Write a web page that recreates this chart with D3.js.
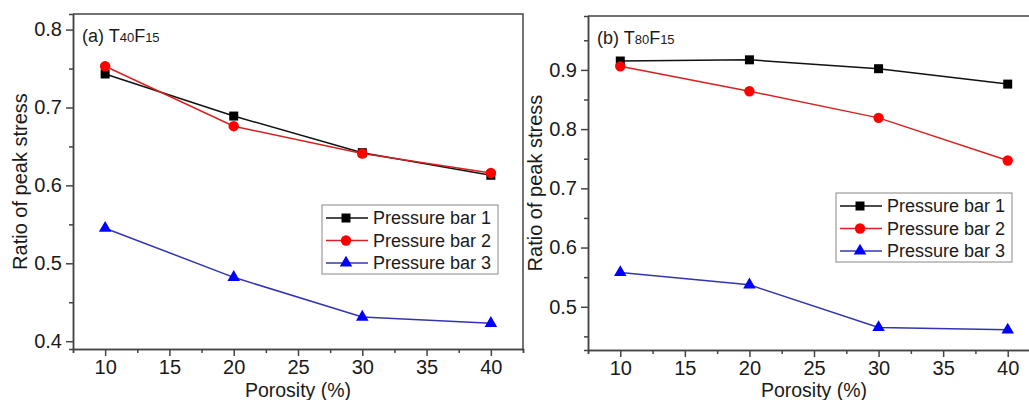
<!DOCTYPE html>
<html>
<head>
<meta charset="utf-8">
<script src="https://cdn.jsdelivr.net/npm/d3@7"></script>
<style>
    body { margin: 0; background: #fff; }
    svg text { font-family: "Liberation Sans", Arial, sans-serif; fill: #1a1a1a; }
</style>
</head>
<body>
<div id="chart"></div>
<script>
const POROSITY = [10, 20, 30, 40]
const SERIES_NAMES = ["Pressure bar 1", "Pressure bar 2", "Pressure bar 3"]

// panel (a) T40F15
const A_BAR1 = [0.743, 0.689, 0.642, 0.613]
const A_BAR2 = [0.753, 0.676, 0.641, 0.616]
const A_BAR3 = [0.545, 0.482, 0.431, 0.423]

// panel (b) T80F15
const B_BAR1 = [0.915, 0.917, 0.902, 0.876]
const B_BAR2 = [0.906, 0.864, 0.819, 0.747]
const B_BAR3 = [0.558, 0.537, 0.465, 0.461]

const X_TICKS = [10, 15, 20, 25, 30, 35, 40]
const X_MINOR = [7.5, 12.5, 17.5, 22.5, 27.5, 32.5, 37.5, 42.5]
const A_Y_TICKS = [0.4, 0.5, 0.6, 0.7, 0.8]
const A_Y_MINOR = [0.45, 0.55, 0.65, 0.75]
const B_Y_TICKS = [0.5, 0.6, 0.7, 0.8, 0.9]
const B_Y_MINOR = [0.45, 0.55, 0.65, 0.75, 0.85, 0.95]

const STYLES = [
    {line: "#111", fill: "#000", shape: d3.symbolSquare, size: 81},
    {line: "#d82020", fill: "#ff0000", shape: d3.symbolCircle, size: 85},
    {line: "#3434b0", fill: "#0000ff", shape: d3.symbolTriangle, size: 68}
]
const AXIS_COLOR = "#444"

let svg = d3.select("#chart")
    .append("svg")
    .attr("width", 1029)
    .attr("height", 400)

function drawPanel(opt) {
    let x = d3.scaleLinear().domain([7.5, 42.5]).range([opt.left, opt.right])
    let y = d3.scaleLinear().domain(opt.yDomain).range([opt.bottom, opt.top])
    let g = svg.append("g")

    // frame top + right
    g.append("path")
        .attr("d", `M${opt.left},${opt.top}H${opt.right}V${opt.bottom}`)
        .attr("fill", "none").attr("stroke", AXIS_COLOR).attr("stroke-width", 1.5)

    // minor ticks
    g.append("g")
        .attr("transform", `translate(0,${opt.bottom})`)
        .call(d3.axisBottom(x).tickValues(X_MINOR).tickSize(4).tickFormat(""))
    g.append("g")
        .attr("transform", `translate(${opt.left},0)`)
        .call(d3.axisLeft(y).tickValues(opt.yMinor).tickSize(4).tickFormat(""))

    // major axes
    g.append("g")
        .attr("class", "xaxis")
        .attr("transform", `translate(0,${opt.bottom})`)
        .call(d3.axisBottom(x).tickValues(X_TICKS).tickSize(7).tickPadding(4).tickSizeOuter(0))
    g.append("g")
        .attr("class", "yaxis")
        .attr("transform", `translate(${opt.left},0)`)
        .call(d3.axisLeft(y).tickValues(opt.yTicks).tickSize(7).tickPadding(4).tickSizeOuter(0).tickFormat(d3.format(".1f")))

    g.selectAll(".domain, .tick line").attr("stroke", AXIS_COLOR).attr("stroke-width", 1.5)
    g.selectAll(".tick text").attr("font-size", 20).attr("fill", "#1a1a1a")
        .style("font-family", '"Liberation Sans", Arial, sans-serif')

    // axis titles
    g.append("text")
        .attr("x", (opt.left + opt.right) / 2)
        .attr("y", 397)
        .attr("text-anchor", "middle")
        .attr("font-size", 19.5)
        .text("Porosity (%)")
    g.append("text")
        .attr("transform", `translate(${opt.left - 51},${(opt.top + opt.bottom) / 2}) rotate(-90)`)
        .attr("text-anchor", "middle")
        .attr("dominant-baseline", "middle")
        .attr("font-size", 20)
        .text("Ratio of peak stress")

    // panel label with subscripts
    let lbl = g.append("text")
        .attr("x", opt.left + 9)
        .attr("y", opt.top + 28)
        .attr("font-size", 18)
    lbl.append("tspan").text(opt.label + " T")
    lbl.append("tspan").attr("font-size", 13).text(opt.sub1)
    lbl.append("tspan").text("F")
    lbl.append("tspan").attr("font-size", 13).text(opt.sub2)

    let line = d3.line()
        .x((d, i) => x(POROSITY[i]))
        .y(d => y(d))

    opt.series.forEach((vals, k) => {
        let st = STYLES[k]
        g.append("path")
            .attr("d", line(vals))
            .attr("fill", "none")
            .attr("stroke", st.line)
            .attr("stroke-width", 1.5)
        g.selectAll(null)
            .data(vals)
            .enter()
            .append("path")
            .attr("transform", (d, i) => `translate(${x(POROSITY[i])},${y(d)})`)
            .attr("d", d3.symbol().type(st.shape).size(st.size))
            .attr("fill", st.fill)
    })

    // legend
    let lg = g.append("g").attr("transform", `translate(${opt.legX},${opt.legY})`)
    lg.append("rect")
        .attr("width", 176).attr("height", 69)
        .attr("fill", "#fff").attr("stroke", "#888").attr("stroke-width", 1)
    SERIES_NAMES.forEach((name, k) => {
        let st = STYLES[k]
        let ry = 13 + k * 22.5
        lg.append("line")
            .attr("x1", 4).attr("x2", 46).attr("y1", ry).attr("y2", ry)
            .attr("stroke", st.line).attr("stroke-width", 1.5)
        lg.append("path")
            .attr("transform", `translate(24,${ry})`)
            .attr("d", d3.symbol().type(st.shape).size(st.size))
            .attr("fill", st.fill)
        lg.append("text")
            .attr("x", 51).attr("y", ry)
            .attr("dominant-baseline", "central")
            .attr("font-size", 18)
            .text(name)
    })
}

drawPanel({
    left: 73, right: 523, top: 14, bottom: 349,
    yDomain: [0.39, 0.82], yTicks: A_Y_TICKS, yMinor: A_Y_MINOR,
    label: "(a)", sub1: "40", sub2: "15",
    series: [A_BAR1, A_BAR2, A_BAR3],
    legX: 322, legY: 205
})

drawPanel({
    left: 588, right: 1040, top: 16, bottom: 350,
    yDomain: [0.427, 0.991], yTicks: B_Y_TICKS, yMinor: B_Y_MINOR,
    label: "(b)", sub1: "80", sub2: "15",
    series: [B_BAR1, B_BAR2, B_BAR3],
    legX: 836, legY: 193
})
</script>
</body>
</html>
